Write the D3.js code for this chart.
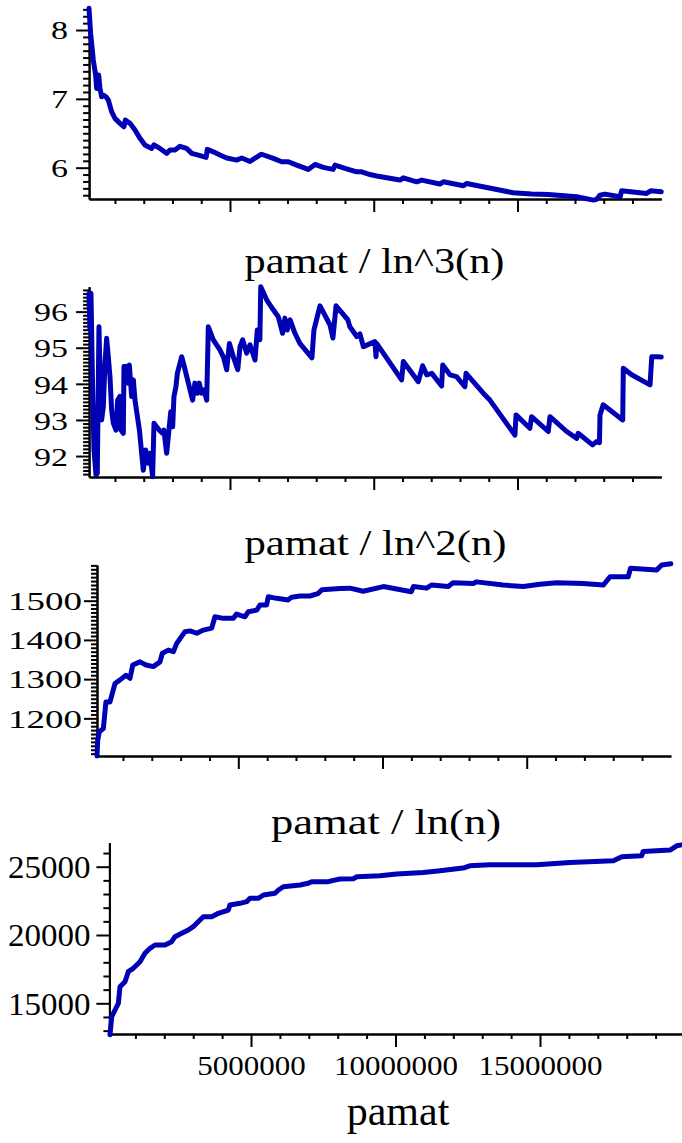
<!DOCTYPE html>
<html><head><meta charset="utf-8">
<script src="https://cdn.jsdelivr.net/npm/d3@7"></script>
<style>body{margin:0;background:#fff}</style></head><body>
<svg id="chart" width="682" height="1143"></svg>
<script>
// ---- data (x in millions of pamat) ----
const p1X = [0.096,0.154,0.246,0.328,0.362,0.432,0.478,0.536,0.594,0.687,0.768,0.884,1.0,1.174,1.313,1.36,1.522,1.696,1.87,2.043,2.276,2.357,2.565,2.797,2.913,3.087,3.26,3.49,3.67,3.90,4.17,4.21,4.42,4.652,4.885,5.116,5.23,5.41,5.696,6.04,6.10,6.506,6.80,7.03,7.32,7.72,7.957,8.245,8.59,8.65,9.0,9.407,9.58,9.87,10.1,10.91,11.03,11.49,11.67,12.30,12.42,13.12,13.23,14.85,15.49,16.07,17.06,17.64,17.75,17.87,18.04,18.57,18.62,19.49,19.63,20.0];
const p1Y = [8.315,7.95,7.564,7.346,7.152,7.346,7.152,7.03,7.055,7.03,6.983,6.813,6.716,6.644,6.595,6.692,6.644,6.547,6.426,6.329,6.28,6.33,6.28,6.208,6.256,6.256,6.31,6.28,6.208,6.183,6.15,6.266,6.23,6.183,6.14,6.12,6.11,6.14,6.09,6.183,6.195,6.135,6.086,6.086,6.038,5.975,6.047,6.004,5.975,6.038,5.99,5.94,5.94,5.90,5.88,5.82,5.853,5.795,5.82,5.762,5.795,5.737,5.771,5.635,5.616,5.61,5.577,5.529,5.54,5.60,5.616,5.577,5.664,5.626,5.664,5.65];

const p2X = [0.096,0.13,0.165,0.224,0.27,0.339,0.385,0.443,0.50,0.536,0.594,0.652,0.71,0.768,0.826,0.884,0.942,1.035,1.093,1.174,1.209,1.29,1.313,1.406,1.44,1.5,1.58,1.64,1.696,1.85,1.985,2.067,2.16,2.217,2.31,2.357,2.45,2.54,2.66,2.70,2.797,2.878,2.94,3.006,3.052,3.12,3.17,3.26,3.32,3.41,3.70,3.78,3.877,3.93,4.015,4.096,4.19,4.246,4.42,4.65,4.77,4.885,4.98,5.116,5.27,5.35,5.44,5.58,5.696,5.87,5.95,6.04,6.07,6.28,6.506,6.68,6.83,6.91,6.99,7.09,7.26,7.43,7.85,7.92,8.13,8.48,8.58,8.69,9.10,9.17,9.41,9.52,9.64,10.04,10.08,10.1,10.97,11.03,11.55,11.70,11.84,12.02,12.36,12.40,12.65,12.88,13.17,13.21,13.81,14.04,14.91,14.95,15.43,15.49,16.07,16.13,16.71,17.06,17.11,17.61,17.75,17.85,17.87,17.98,18.66,18.68,18.97,19.61,19.67,19.84,20.0];
const p2Y = [96.51,95.49,96.51,93.83,92.17,91.48,91.52,95.58,93.65,93.0,93.37,94.57,95.26,94.75,94.2,93.28,92.91,92.72,93.55,93.65,92.72,92.63,94.48,94.48,94.02,94.52,93.65,94.11,93.55,92.72,91.61,92.17,91.80,92.08,91.43,92.91,92.81,92.72,92.63,92.72,92.08,92.72,93.23,92.81,93.65,93.92,94.29,94.57,94.75,94.48,93.55,94.02,93.74,94.02,93.74,93.83,93.55,95.58,95.22,94.94,94.75,94.39,95.12,94.75,94.39,95.03,95.22,94.85,95.08,94.66,95.49,95.22,96.69,96.32,96.05,95.86,95.40,95.82,95.49,95.77,95.40,95.12,94.72,95.49,96.16,95.63,95.27,96.16,95.77,95.58,95.31,95.38,95.03,95.17,94.75,95.12,94.11,94.62,94.06,94.5,94.25,94.29,93.94,94.52,94.25,94.2,93.92,94.29,93.74,93.55,92.58,93.14,92.77,93.09,92.68,93.09,92.68,92.49,92.63,92.31,92.40,92.37,93.14,93.42,93.0,94.43,94.25,93.97,94.75,94.75,94.74];

const p3X = [0.1,0.125,0.18,0.32,0.41,0.55,0.725,0.90,1.106,1.245,1.34,1.59,1.80,2.05,2.285,2.365,2.573,2.75,2.864,3.15,3.325,3.557,3.79,4.077,4.19,4.48,4.83,4.94,5.23,5.35,5.64,5.75,5.98,6.04,6.33,6.73,6.85,7.14,7.48,7.76,7.9,8.53,8.87,9.33,10.03,11.0,11.07,11.53,11.7,12.28,12.45,13.15,13.26,14.18,14.88,15.46,16.04,16.96,17.66,17.89,18.52,18.6,19.5,19.68,20.0];
const p3Y = [1104,1145,1166,1174,1242,1242,1289,1298,1310,1302,1336,1344,1336,1332,1344,1366,1374,1370,1391,1421,1423,1417,1425,1430,1459,1455,1455,1466,1459,1472,1476,1489,1489,1510,1506,1502,1509,1512,1512,1518,1528,1531,1532,1524,1536,1523,1536,1532,1540,1536,1546,1544,1548,1540,1536,1542,1546,1544,1540,1561,1561,1583,1578,1591,1594];

const p4X = [0.12,0.18,0.294,0.41,0.467,0.64,0.755,0.927,1.16,1.33,1.505,1.68,2.024,2.256,2.37,2.60,2.83,3.0,3.235,3.35,3.64,3.87,4.215,4.27,4.62,4.85,4.965,5.25,5.43,5.83,5.95,6.12,6.70,6.98,7.10,7.68,7.85,8.08,8.54,8.66,9.46,10.04,10.96,11.54,12.34,12.57,13.27,14.89,16.04,17.54,17.83,18.52,18.57,19.5,19.73,19.91,20.0];
const p4Y = [12700,14020,14510,15000,16216,16582,17314,17560,18046,18660,19027,19268,19268,19510,19876,20124,20366,20608,21098,21340,21340,21588,21830,22197,22318,22440,22687,22687,22928,23053,23294,23536,23660,23785,23903,23903,24000,24100,24120,24260,24335,24458,24580,24700,24900,25066,25140,25140,25310,25430,25725,25800,26120,26215,26530,26600,26650];

const p1YTicks = [6,7,8];
const p2YTicks = [92,93,94,95,96];
const p3YTicks = [1200,1300,1400,1500];
const p4YTicks = [15000,20000,25000];
const xMajorTicks = [5000000,10000000,15000000];
const xTickLabels = ["5000000","10000000","15000000"];
const titles = [null, "pamat / ln^3(n)", "pamat / ln^2(n)", "pamat / ln(n)"];
const xAxisTitle = "pamat";

// ---- layout ----
const LINE = "#0000b4";
const FONT = '"Times New Roman"';
const panels = [
  {xs:p1X, ys:p1Y, major:p1YTicks, minorStep:0.1, yDom:[5.545,8.32], xr:[89.1,661.25], yr:[199,8],
   lf:24.4, lpc:17, loff:21, title:null},
  {xs:p2X, ys:p2Y, major:p2YTicks, minorStep:0.1, yDom:[91.42,96.69], xr:[89.1,661.25], yr:[477,286.7],
   lf:26, lpc:17, loff:21, title:{text:titles[1], cx:374.5, y:273, w:260}},
  {xs:p3X, ys:p3Y, major:p3YTicks, minorStep:10, yDom:[1104,1591], xr:[97,670.9], yr:[756,565],
   lf:24.7, lpc:18.5, loff:15, title:{text:titles[2], cx:375.5, y:555, w:262}},
  {xs:p4X, ys:p4Y, major:p4YTicks, minorStep:1000, yDom:[12753,26757], xr:[109.4,684.5], yr:[1034,842.7],
   lf:30.6, lpc:16.5, loff:19, title:{text:titles[3], cx:386, y:834, w:230}, xlabels:true}
];

const svg = d3.select("#chart");

panels.forEach((p) => {
  const g = svg.append("g");
  const x = d3.scaleLinear().domain([1e5, 2e7]).range(p.xr);
  const y = d3.scaleLinear().domain(p.yDom).range(p.yr);

  const lo = Math.ceil(p.yDom[0]/p.minorStep), hi = Math.floor(p.yDom[1]/p.minorStep);
  const minorY = d3.range(lo, hi+1).map(k => +(k*p.minorStep).toFixed(6)).filter(v => !p.major.includes(v));
  const gyMin = g.append("g").attr("transform", `translate(${p.xr[0]},0)`)
    .call(d3.axisLeft(y).tickValues(minorY).tickSize(6).tickSizeOuter(0).tickFormat(""));
  const gy = g.append("g").attr("transform", `translate(${p.xr[0]},0)`)
    .call(d3.axisLeft(y).tickValues(p.major).tickSize(13).tickSizeOuter(0).tickFormat(d3.format("d")));

  const minorX = d3.range(1, 20).map(k => k*1e6).filter(v => !xMajorTicks.includes(v));
  const gxMin = g.append("g").attr("transform", `translate(0,${p.yr[0]})`)
    .call(d3.axisBottom(x).tickValues(minorX).tickSize(5).tickSizeOuter(0).tickFormat(""));
  const gx = g.append("g").attr("transform", `translate(0,${p.yr[0]})`)
    .call(d3.axisBottom(x).tickValues(xMajorTicks).tickSize(13).tickSizeOuter(0)
      .tickFormat((d,j) => p.xlabels ? xTickLabels[j] : ""));

  [gyMin, gy, gxMin, gx].forEach(a => {
    a.attr("font-family", null).attr("font-size", null);
    a.selectAll("path.domain").attr("stroke", "#000").attr("stroke-width", 2);
    a.selectAll("line").attr("stroke", "#000").attr("stroke-width", 2);
  });

  gy.selectAll("text")
    .attr("x", -p.loff).attr("dy", "0.355em").attr("fill", "#000")
    .style("font-family", FONT).attr("font-size", p.lf)
    .attr("text-anchor", "end")
    .attr("textLength", function(){ return p.lpc * this.textContent.length; })
    .attr("lengthAdjust", "spacingAndGlyphs");

  if (p.xlabels) {
    gx.selectAll("text")
      .attr("y", 1075 - p.yr[0]).attr("dy", null).attr("fill", "#000")
      .style("font-family", FONT).attr("font-size", 27)
      .attr("text-anchor", "middle")
      .attr("textLength", function(){ return 15.5 * this.textContent.length; })
      .attr("lengthAdjust", "spacingAndGlyphs");
  }

  if (p.title) {
    g.append("text").text(p.title.text).style("font-family", FONT)
      .attr("x", p.title.cx).attr("y", p.title.y)
      .attr("font-size", 36.6).attr("text-anchor", "middle").attr("fill", "#000")
      .attr("textLength", p.title.w).attr("lengthAdjust", "spacingAndGlyphs");
  }

  const pts = p.xs.map((v, k) => [v*1e6, p.ys[k]]);
  g.append("path").datum(pts)
    .attr("fill", "none").attr("stroke", LINE).attr("stroke-width", 5)
    .attr("stroke-linejoin", "round").attr("stroke-linecap", "round")
    .attr("d", d3.line().x(d => x(d[0])).y(d => y(d[1])));
});

svg.append("text").text(xAxisTitle).style("font-family", FONT)
  .attr("x", 398).attr("y", 1125).attr("font-size", 42)
  .attr("text-anchor", "middle").attr("fill", "#000");
</script>
</body></html>
